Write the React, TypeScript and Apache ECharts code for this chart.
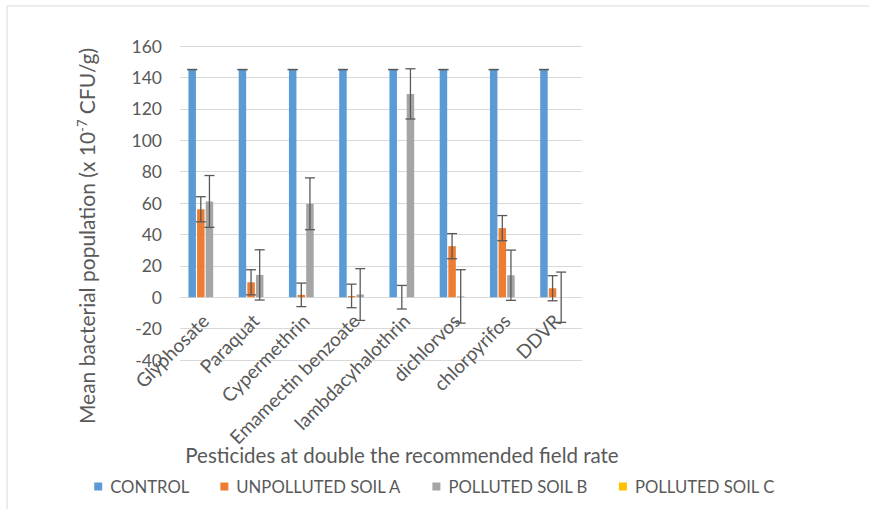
import React, { useEffect, useRef } from "react";
import * as echarts from "echarts";

const categories = [
  "Glyphosate",
  "Paraquat",
  "Cypermethrin",
  "Emamectin benzoate",
  "lambdacyhalothrin",
  "dichlorvos",
  "chlorpyrifos",
  "DDVR",
];
const seriesNames = ["CONTROL", "UNPOLLUTED SOIL A", "POLLUTED SOIL B", "POLLUTED SOIL C"];
const controlVals = [145, 145, 145, 145, 145, 145, 145, 145];
const controlErr = [0, 0, 0, 0, 0, 0, 0, 0];
const soilAVals = [56, 9.5, 1.5, 0.8, 0, 32.5, 44, 5.7];
const soilAErr = [8, 8, 7.5, 7.5, 7.5, 8, 8, 8];
const soilBVals = [61, 14.2, 59.5, 1.7, 129.5, 0.5, 14, 0];
const soilBErr = [16.5, 16, 16.5, 16.5, 16, 17, 16, 16];
const soilCVals = [0, 0, 0, 0, 0, 0, 0, 0];
const colors = ["#5b9bd5", "#ed7d31", "#a5a5a5", "#ffc000"];
const yTicks = { min: -40, max: 160, interval: 20 };

const FONT = "Lato";
const TXT = "#595959";
const BAR_W = 7.5;
const STEP = BAR_W * 1.15;
const GRID_TOP = 46;
const GRID_BOTTOM = 149;
const PLOT_H = 509 - GRID_TOP - GRID_BOTTOM;
const ZERO_OFFSET = (PLOT_H * (0 - yTicks.min)) / (yTicks.max - yTicks.min);

function errSeries(name: string, vals: number[], errs: number[], idx: number) {
  return {
    type: "custom",
    name: name + " error",
    silent: true,
    z: 10,
    data: vals.map((v, i) => [i, v, errs[i]]),
    encode: { x: 0, y: 1 },
    renderItem: (params: any, api: any) => {
      const i = api.value(0);
      const v = api.value(1);
      const e = api.value(2);
      const top = api.coord([i, v + e]);
      const bot = api.coord([i, v - e]);
      const x = top[0] + (idx - 1.5) * STEP;
      const cap = 5;
      const st = { stroke: "#595959", lineWidth: 1.3 };
      return {
        type: "group",
        children: [
          { type: "line", shape: { x1: x, y1: top[1], x2: x, y2: bot[1] }, style: st },
          { type: "line", shape: { x1: x - cap, y1: top[1], x2: x + cap, y2: top[1] }, style: st },
          { type: "line", shape: { x1: x - cap, y1: bot[1], x2: x + cap, y2: bot[1] }, style: st },
        ],
      };
    },
  };
}

export default function App() {
  const ref = useRef<HTMLDivElement>(null);
  useEffect(() => {
    if (!ref.current) return;
    const chart = echarts.init(ref.current, null, { renderer: "svg" });
    const bar = (name: string, data: number[], i: number) => ({
      type: "bar",
      name,
      data,
      barWidth: BAR_W,
      barGap: "15%",
      itemStyle: { color: colors[i] },
    });
    chart.setOption({
      animation: false,
      backgroundColor: "#ffffff",
      textStyle: { fontFamily: FONT },
      grid: { left: 180, right: 287, top: GRID_TOP, bottom: GRID_BOTTOM, containLabel: false },
      xAxis: {
        type: "category",
        data: categories,
        offset: -ZERO_OFFSET,
        axisLine: { show: true, onZero: false, lineStyle: { color: "#d9d9d9" } },
        axisTick: { show: false },
        axisLabel: {
          rotate: 45,
          margin: 20,
          interval: 0,
          color: TXT,
          fontSize: 19,
          fontFamily: FONT,
        },
      },
      yAxis: {
        type: "value",
        min: yTicks.min,
        max: yTicks.max,
        interval: yTicks.interval,
        axisLine: { show: false },
        axisTick: { show: false },
        splitLine: { lineStyle: { color: "#d9d9d9", width: 1 } },
        axisLabel: { color: TXT, fontSize: 17.5, margin: 18, fontFamily: FONT },
      },
      legend: {
        data: seriesNames,
        bottom: 9,
        left: "center",
        itemWidth: 8,
        itemHeight: 8,
        itemGap: 31,
        icon: "rect",
        textStyle: { color: TXT, fontSize: 16.7, fontFamily: FONT, padding: [0, 0, 0, 3] },
      },
      graphic: [
        {
          type: "rect",
          shape: { x: 7, y: 6, width: 1000, height: 1000 },
          style: { fill: "none", stroke: "#d9d9d9", lineWidth: 1 },
          silent: true,
        },
        {
          type: "text",
          x: 86,
          y: 236,
          rotation: Math.PI / 2,
          style: {
            text: "{a|Mean bacterial population (x 10}{s|-7}{a| CFU/g)}",
            align: "center",
            verticalAlign: "middle",
            rich: {
              a: { fontSize: 21, fill: TXT, fontFamily: FONT },
              s: { fontSize: 13, fill: TXT, fontFamily: FONT, verticalAlign: "top", padding: [0, 0, 9, 0] },
            },
          },
        },
        {
          type: "text",
          x: 402,
          y: 455,
          style: {
            text: "Pesticides at double the recommended field rate",
            align: "center",
            verticalAlign: "middle",
            fontSize: 20.5,
            fill: TXT,
            fontFamily: FONT,
          },
        },
      ],
      series: [
        bar(seriesNames[0], controlVals, 0),
        bar(seriesNames[1], soilAVals, 1),
        bar(seriesNames[2], soilBVals, 2),
        bar(seriesNames[3], soilCVals, 3),
        errSeries(seriesNames[0], controlVals, controlErr, 0),
        errSeries(seriesNames[1], soilAVals, soilAErr, 1),
        errSeries(seriesNames[2], soilBVals, soilBErr, 2),
      ],
    });
    return () => chart.dispose();
  }, []);
  return (
    <div
      ref={ref}
      style={{ position: "fixed", left: 0, top: 0, width: 869, height: 509, background: "#fff" }}
    />
  );
}
